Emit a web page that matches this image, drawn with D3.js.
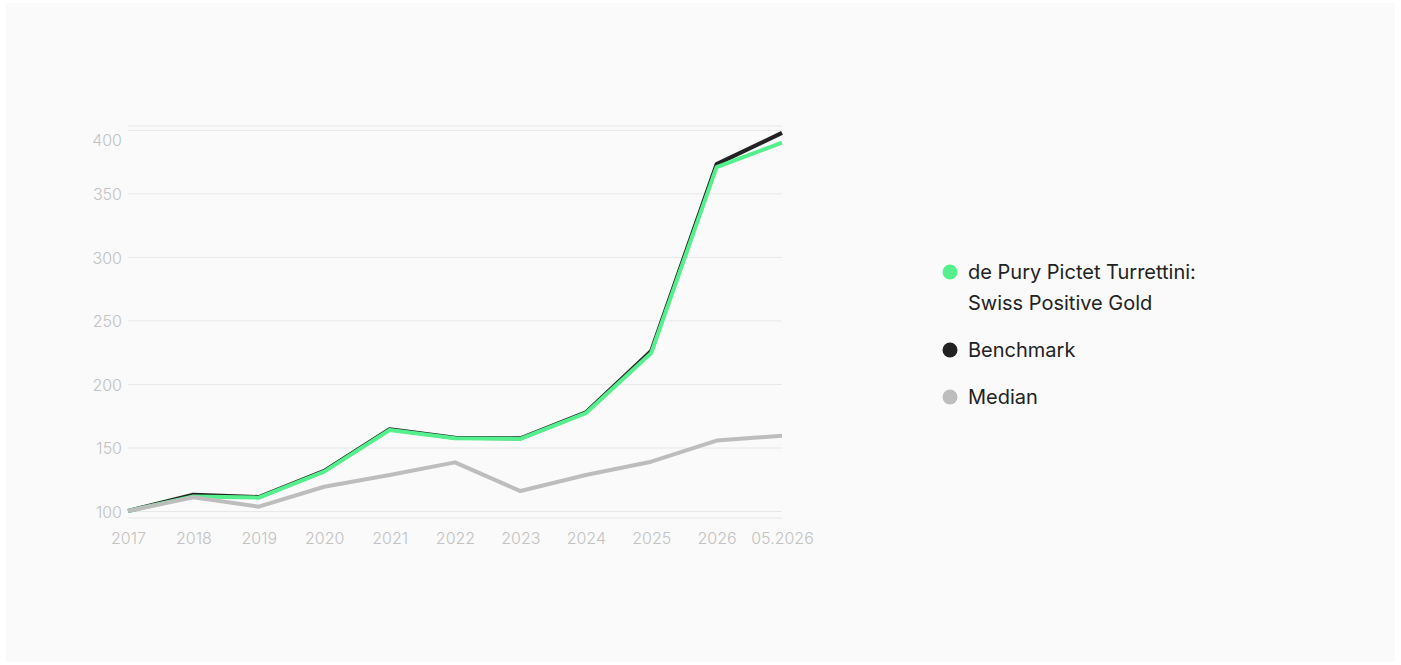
<html>
<head>
<script src="https://d3js.org/d3.v7.min.js"></script>
<style>
  body { margin: 0; background: #fff; font-family: Inter, "Noto Sans", sans-serif; }
  .gridlines line { stroke: #e8e8e8; }
  .gridlines .domain { stroke: none; }
  .axis text { fill: #c2c2c2; font-size: 16px; font-weight: 300; font-family: Inter, sans-serif; }
  .axis .domain, .axis line { stroke: none; }
</style>
</head>
<body>
<div id="chart"></div>
<script>
// categories and series
const periods = ['2017', '2018', '2019', '2020', '2021', '2022', '2023', '2024', '2025', '2026', '05.2026'];
const fund      = [100, 111.5, 110.5, 131, 163.8, 157.3, 156.7, 177, 224.4, 370.6, 390];
const benchmark = [100, 112.8, 111, 131.6, 164.4, 157.7, 157.2, 177.6, 226, 373, 397.6];
const median    = [100, 110.8, 103.4, 119.1, 128.3, 138.3, 115.7, 128.3, 138.8, 155.4, 159.3];
const yTicks = [100, 150, 200, 250, 300, 350, 400];
const seriesNames = ['de Pury Pictet Turrettini:|Swiss Positive Gold', 'Benchmark', 'Median'];
const seriesColors = ['#55f08d', '#222222', '#bdbdbd'];

const svg = d3.select('#chart').append('svg')
    .attr('width', 1401)
    .attr('height', 665);

svg.append('rect')
    .attr('x', 6).attr('y', 3)
    .attr('width', 1389).attr('height', 659)
    .attr('fill', '#fafafa');

const margins = { top: 126, left: 128 };
const chartWidth = 654;
const chartHeight = 392;

const chartArea = svg.append('g')
    .attr('transform', `translate(${margins.left},${margins.top})`);

const xScale = d3.scalePoint().domain(periods).range([0, chartWidth]);
const yScale = d3.scaleLinear().domain([94.5, 403]).range([chartHeight, 0]);

// gridlines
chartArea.append('g')
    .attr('class', 'gridlines')
    .call(d3.axisLeft(yScale).tickValues(yTicks).tickSize(-chartWidth).tickFormat(''));

// frame top / bottom
chartArea.selectAll('line.frame')
    .data(yScale.domain())
    .join('line')
    .attr('class', 'frame')
    .attr('x1', 0).attr('x2', chartWidth)
    .attr('y1', d => yScale(d)).attr('y2', d => yScale(d))
    .attr('stroke', '#e8e8e8');

// y axis labels
const leftAxis = chartArea.append('g')
    .attr('class', 'axis')
    .attr('transform', 'translate(-6,0)')
    .call(d3.axisLeft(yScale).tickValues(yTicks).tickSize(0).tickPadding(0));
leftAxis.selectAll('text')
    .attr('dy', d => d === 400 ? '1.0em' : '0.4em');

// x axis labels
chartArea.append('g')
    .attr('class', 'axis')
    .attr('transform', `translate(0,${chartHeight + 15})`)
    .call(d3.axisBottom(xScale).tickSize(0).tickPadding(0));

const line = d3.line()
    .x((d, i) => xScale(periods[i]))
    .y(d => yScale(d));

[benchmark, fund, median].forEach((values, k) => {
    const color = [seriesColors[1], seriesColors[0], seriesColors[2]][k];
    chartArea.append('path')
        .datum(values)
        .attr('d', line)
        .attr('fill', 'none')
        .attr('stroke', color)
        .attr('stroke-width', 4)
        .attr('stroke-linejoin', 'round');
});

// legend
const legend = svg.append('g').attr('transform', 'translate(950,272)');
const offsets = [0, 78, 125];
seriesNames.forEach((name, i) => {
    const g = legend.append('g').attr('transform', `translate(0,${offsets[i]})`);
    g.append('circle').attr('r', 7.5).attr('fill', seriesColors[i]);
    const t = g.append('text')
        .attr('x', 18)
        .attr('fill', '#222')
        .style('font-size', '20px')
        .style('font-family', 'Inter, sans-serif');
    name.split('|').forEach((part, j) => {
        t.append('tspan').attr('x', 18).attr('dy', j === 0 ? '0.35em' : 31).text(part);
    });
});
</script>
</body>
</html>
